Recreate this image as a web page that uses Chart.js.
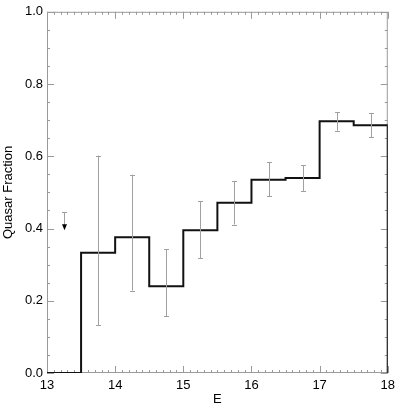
<!DOCTYPE html>
<html>
<head>
<meta charset="utf-8">
<script src="https://cdn.jsdelivr.net/npm/chart.js@4"></script>
<style>
  html, body { margin: 0; padding: 0; background: #fff; }
  #wrap { width: 400px; height: 408px; }
</style>
</head>
<body>
<div id="wrap"><canvas id="chart"></canvas></div>
<script>
/* ── Data ── */
const binEdges   = [13, 13.5, 14, 14.5, 15, 15.5, 16, 16.5, 17, 17.5, 18];
const fractions  = [0, 0.333, 0.376, 0.240, 0.395, 0.471, 0.535, 0.540, 0.697, 0.686];
const errCenters = [13.75, 14.25, 14.75, 15.25, 15.75, 16.25, 16.75, 17.25, 17.75];
const errLow     = [0.133, 0.228, 0.157, 0.317, 0.411, 0.490, 0.504, 0.671, 0.652];
const errHigh    = [0.602, 0.549, 0.343, 0.476, 0.531, 0.583, 0.575, 0.722, 0.719];
const limitX     = [13.25];
const limitTop   = [0.445];
const limitTip   = [0.395];
const xTicks     = [13, 14, 15, 16, 17, 18];
const yTicks     = [0.0, 0.2, 0.4, 0.6, 0.8, 1.0];

/* step outline: left edge of each bin, then drop at the last edge */
const stepPts = fractions.map((v, i) => ({ x: binEdges[i], y: v }));
stepPts.push({ x: binEdges[binEdges.length - 1], y: fractions[fractions.length - 1] });
stepPts.push({ x: binEdges[binEdges.length - 1], y: 0 });

const FONT = 'Liberation Sans, Arial, Helvetica, sans-serif';
const AXIS = '#9a9a9a';
const ERR  = '#a0a0a0';

/* ── Frame + inward ticks ── */
const framePlugin = {
  id: 'frame',
  beforeDatasetsDraw(chart) {
    const { ctx, chartArea: a, scales: { x, y } } = chart;
    ctx.save();
    ctx.strokeStyle = AXIS;
    ctx.lineWidth = 1;
    ctx.strokeRect(a.left + 0.5, a.top + 0.5, a.right - a.left - 1, a.bottom - a.top - 1);
    ctx.beginPath();
    for (let i = 0; i <= 50; i++) {
      const px = Math.round(x.getPixelForValue(13 + i * 0.1)) + 0.5;
      const len = i % 10 === 0 ? 7 : 3;
      ctx.moveTo(px, a.bottom); ctx.lineTo(px, a.bottom - len);
      ctx.moveTo(px, a.top);    ctx.lineTo(px, a.top + len);
    }
    for (let i = 0; i <= 20; i++) {
      const py = Math.round(y.getPixelForValue(i * 0.05)) + 0.5;
      const len = i % 4 === 0 ? 7 : 3;
      ctx.moveTo(a.left, py);  ctx.lineTo(a.left + len, py);
      ctx.moveTo(a.right, py); ctx.lineTo(a.right - len, py);
    }
    ctx.stroke();
    ctx.restore();
  },
  afterDatasetsDraw(chart) {
    const { ctx, scales: { x, y } } = chart;
    ctx.save();
    ctx.strokeStyle = ERR;
    ctx.lineWidth = 1;
    ctx.beginPath();
    errCenters.forEach((c, i) => {
      const px = Math.round(x.getPixelForValue(c)) + 0.5;
      const y1 = y.getPixelForValue(errLow[i]);
      const y2 = y.getPixelForValue(errHigh[i]);
      ctx.moveTo(px, y1); ctx.lineTo(px, y2);
      ctx.moveTo(px - 2.5, Math.round(y1) + 0.5); ctx.lineTo(px + 2.5, Math.round(y1) + 0.5);
      ctx.moveTo(px - 2.5, Math.round(y2) + 0.5); ctx.lineTo(px + 2.5, Math.round(y2) + 0.5);
    });
    ctx.stroke();
    // upper limit arrows
    limitX.forEach((lx, i) => {
      const px = Math.round(x.getPixelForValue(lx)) + 0.5;
      const yt = y.getPixelForValue(limitTop[i]);
      const yb = y.getPixelForValue(limitTip[i]);
      ctx.strokeStyle = ERR;
      ctx.beginPath();
      ctx.moveTo(px - 2.5, Math.round(yt) + 0.5); ctx.lineTo(px + 2.5, Math.round(yt) + 0.5);
      ctx.moveTo(px, yt); ctx.lineTo(px, yb - 5);
      ctx.stroke();
      ctx.fillStyle = '#000';
      ctx.beginPath();
      ctx.moveTo(px - 2.5, yb - 6);
      ctx.lineTo(px + 2.5, yb - 6);
      ctx.lineTo(px, yb);
      ctx.closePath();
      ctx.fill();
    });
    ctx.restore();
  }
};

new Chart(document.getElementById('chart'), {
  type: 'line',
  data: {
    datasets: [{
      data: stepPts,
      stepped: 'before',
      borderColor: '#111',
      borderWidth: 2,
      pointRadius: 0,
      fill: false,
    }],
  },
  options: {
    responsive: true,
    maintainAspectRatio: false,
    animation: false,
    layout: { padding: { top: 6, right: 11, left: 0, bottom: 0 } },
    plugins: { legend: { display: false }, tooltip: { enabled: false } },
    scales: {
      x: {
        type: 'linear',
        min: 13, max: 18,
        border: { display: false },
        grid: { display: false, drawTicks: false },
        afterBuildTicks: s => { s.ticks = xTicks.map(v => ({ value: v })); },
        afterFit: s => { s.height = 35; },
        ticks: { color: '#000', padding: 5, font: { family: FONT, size: 13 }, maxRotation: 0 },
        title: { display: true, text: 'E', color: '#000', padding: { top: 0, bottom: 1 }, font: { family: FONT, size: 13 } },
      },
      y: {
        min: 0, max: 1,
        border: { display: false },
        grid: { display: false, drawTicks: false },
        afterBuildTicks: s => { s.ticks = yTicks.map(v => ({ value: v })); },
        afterFit: s => { s.width = 47; },
        ticks: { color: '#000', padding: 4, font: { family: FONT, size: 13 }, callback: v => v.toFixed(1) },
        title: { display: true, text: 'Quasar Fraction', color: '#000', padding: { top: 1, bottom: 0 }, font: { family: FONT, size: 13 } },
      },
    },
  },
  plugins: [framePlugin],
});
</script>
</body>
</html>
